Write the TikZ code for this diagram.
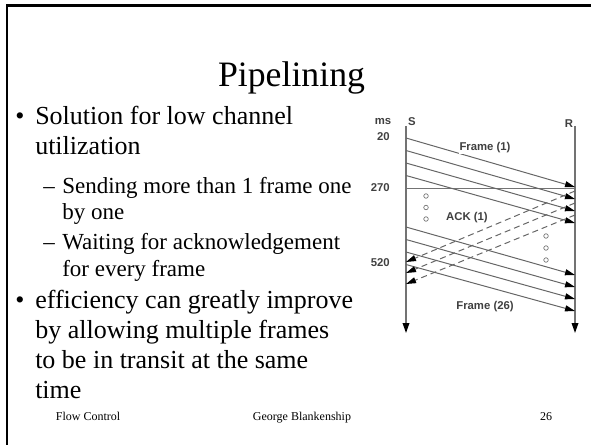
\documentclass[tikz,border=0pt]{standalone}
\usepackage{fontspec}
\setmainfont{Liberation Serif}
\newfontfamily\diagfont{Liberation Sans}
\usetikzlibrary{arrows.meta}

\begin{document}
\begin{tikzpicture}[x=0.75pt,y=-0.75pt,
  lvlone/.style={anchor=base west,inner sep=0pt,font=\fontsize{19.5}{22}\selectfont},
  lvltwo/.style={anchor=base west,inner sep=0pt,font=\fontsize{17.25}{20}\selectfont},
  foot/.style={anchor=base,inner sep=0pt,font=\fontsize{9}{10}\selectfont},
  lbl/.style={inner sep=0pt,text=black!75,font=\diagfont\bfseries\fontsize{8.5}{9}\selectfont},
  timeline/.style={draw=black!55,line width=1pt,-{Triangle[length=7.5pt,width=5pt,color=black]}},
  frameline/.style={draw=black!60,line width=0.75pt,-{Triangle[length=7.5pt,width=4.5pt,color=black]}},
  ackline/.style={frameline,dash pattern=on 4.5pt off 3pt},
  pause/.style={circle,draw=black!55,line width=0.5pt,minimum size=3.4pt,inner sep=0pt},
  slideedge/.style={draw=black,line width=2.2pt}
]
\useasboundingbox (0,0) rectangle (591,445);

% slide frame (top and left edges only)
\coordinate (edgeTL) at (7,5.5);
\coordinate (edgeTR) at (591,5.5);
\coordinate (edgeBL) at (7,445);
\draw[slideedge] (edgeTR) -- (edgeTL) -- (edgeBL);

% title
\node[anchor=base,inner sep=0pt,font=\fontsize{26.8}{30}\selectfont] (title) at (291.5,87) {Pipelining};

% bullet text
\node[lvlone] (b1) at (15,125) {\textbullet};
\node[lvlone] (t1a) at (35,125) {Solution for low channel};
\node[lvlone] (t1b) at (35,155) {utilization};
\node[lvltwo] (d1) at (43,194) {–};
\node[lvltwo] (t2a) at (62,194) {Sending more than 1 frame one};
\node[lvltwo] (t2b) at (62,219) {by one};
\node[lvltwo] (d2) at (43,249) {–};
\node[lvltwo] (t3a) at (62,249) {Waiting for acknowledgement};
\node[lvltwo] (t3b) at (62,276) {for every frame};
\node[lvlone] (b2) at (15,308) {\textbullet};
\node[lvlone] (t4a) at (35,308) {efficiency can greatly improve};
\node[lvlone] (t4b) at (35,338) {by allowing multiple frames};
\node[lvlone] (t4c) at (35,368) {to be in transit at the same};
\node[lvlone] (t4d) at (35,398) {time};

% footer
\node[foot] (fl) at (88,420) {Flow Control};
\node[foot] (fm) at (302,420) {George Blankenship};
\node[foot] (fr) at (546,420) {26};

% sequence diagram: sender S and receiver R time axes
\coordinate (Stop) at (406,126);
\coordinate (Sbot) at (406,333);
\coordinate (Rtop) at (575,126);
\coordinate (Rbot) at (575,333);
\draw[timeline] (Stop) -- (Sbot);
\draw[timeline] (Rtop) -- (Rbot);

\node[lbl] (ms) at (383,122) {ms};
\node[lbl] (Slbl) at (412,122) {S};
\node[lbl] (Rlbl) at (569,124) {R};
\node[lbl,anchor=east] (t20) at (390,137) {20};
\node[lbl,anchor=east] (t270) at (390,188) {270};
\node[lbl,anchor=east] (t520) at (390,263) {520};

% 270 ms reference line
\coordinate (hS) at (406,188);
\coordinate (hR) at (575,188);
\draw[draw=black!55,line width=0.75pt] (hS) -- (hR);

% first burst of frames
\foreach \i/\ys/\yr in {1/138/187,2/150.5/199,3/163/211,4/175.5/223}{
  \coordinate (fs\i) at (406,\ys);
  \coordinate (fr\i) at (575,\yr);
  \draw[frameline] (fs\i) -- (fr\i);
}
% second burst of frames
\foreach \i/\ys/\yr in {5/227/275,6/239.5/287,7/252/299,8/264.5/311}{
  \coordinate (fs\i) at (406,\ys);
  \coordinate (fr\i) at (575,\yr);
  \draw[frameline] (fs\i) -- (fr\i);
}
% acknowledgements
\foreach \i/\yr/\ys in {1/191/262,2/203/273,3/215/284}{
  \coordinate (ar\i) at (575,\yr);
  \coordinate (as\i) at (406,\ys);
  \draw[ackline] (ar\i) -- (as\i);
}

% idle dots
\foreach \i/\y in {1/196,2/207.5,3/219}{
  \node[pause] (ps\i) at (426,\y) {};
}
\foreach \i/\y in {1/236,2/248,3/260}{
  \node[pause] (pr\i) at (546,\y) {};
}

\node[lbl,fill=white,inner sep=0.5pt] (fone) at (485,148) {Frame (1)};
\node[lbl,fill=white,inner sep=0.5pt] (ackone) at (467,218) {ACK (1)};
\node[lbl] (ftwentysix) at (485,307) {Frame (26)};
\end{tikzpicture}
\end{document}
